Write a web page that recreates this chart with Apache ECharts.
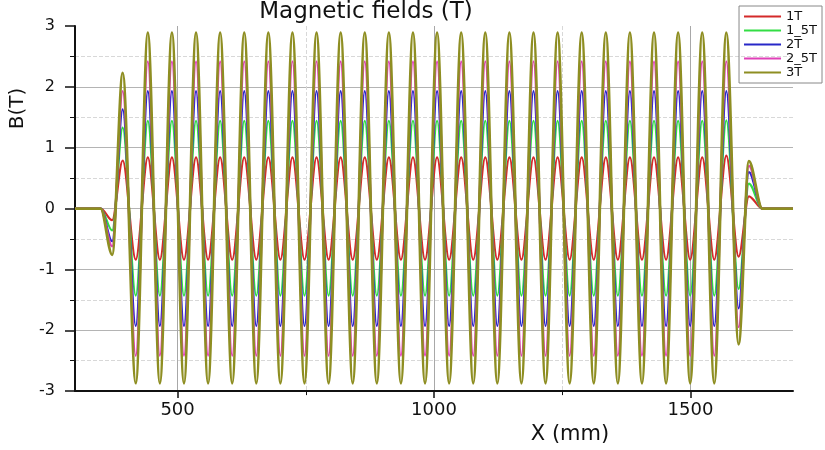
<!DOCTYPE html>
<html>
<head>
<meta charset="utf-8">
<title>Magnetic fields (T)</title>
<script src="https://cdn.jsdelivr.net/npm/echarts@6/dist/echarts.min.js"></script>
<style>
  html, body { margin: 0; padding: 0; background: #fff; }
  #chart { width: 825px; height: 450px; }
</style>
</head>
<body>
<div id="chart"></div>
<script>
// positions (mm) of the field extrema
const fieldX = [300, 350, 372.5, 393,
  418.5, 442, 465.5, 489, 512.5, 536, 559.5, 583, 606.5, 630,
  653.5, 677, 700.5, 724, 747.5, 771, 794.5, 818, 841.5, 865,
  888.5, 912, 935.5, 959, 982.5, 1006, 1029.5, 1053, 1076.5, 1100,
  1123.5, 1147, 1170.5, 1194, 1217.5, 1241, 1264.5, 1288, 1311.5, 1335,
  1358.5, 1382, 1405.5, 1429, 1452.5, 1476, 1499.5, 1523, 1546.5, 1570,
  1594, 1614, 1640, 1700];

// field values (T) at those positions
const b1T = [0, 0, -0.19, 0.79,
  -0.84, 0.84, -0.84, 0.84, -0.84, 0.84, -0.84, 0.84, -0.84, 0.84,
  -0.84, 0.84, -0.84, 0.84, -0.84, 0.84, -0.84, 0.84, -0.84, 0.84,
  -0.84, 0.84, -0.84, 0.84, -0.84, 0.84, -0.84, 0.84, -0.84, 0.84,
  -0.84, 0.84, -0.84, 0.84, -0.84, 0.84, -0.84, 0.84, -0.84, 0.84,
  -0.84, 0.84, -0.84, 0.84, -0.84, 0.84, -0.84, 0.84, -0.84, 0.87,
  -0.79, 0.2, 0, 0];
const b15T = [0, 0, -0.36, 1.33,
  -1.43, 1.44, -1.43, 1.44, -1.43, 1.44, -1.43, 1.44, -1.43, 1.44,
  -1.43, 1.44, -1.43, 1.44, -1.43, 1.44, -1.43, 1.44, -1.43, 1.44,
  -1.43, 1.44, -1.43, 1.44, -1.43, 1.44, -1.43, 1.44, -1.43, 1.44,
  -1.43, 1.44, -1.43, 1.44, -1.43, 1.44, -1.43, 1.44, -1.43, 1.44,
  -1.43, 1.44, -1.43, 1.44, -1.43, 1.44, -1.43, 1.44, -1.43, 1.45,
  -1.32, 0.41, 0, 0];
const b2T = [0, 0, -0.54, 1.63,
  -1.93, 1.93, -1.93, 1.93, -1.93, 1.93, -1.93, 1.93, -1.93, 1.93,
  -1.93, 1.93, -1.93, 1.93, -1.93, 1.93, -1.93, 1.93, -1.93, 1.93,
  -1.93, 1.93, -1.93, 1.93, -1.93, 1.93, -1.93, 1.93, -1.93, 1.93,
  -1.93, 1.93, -1.93, 1.93, -1.93, 1.93, -1.93, 1.93, -1.93, 1.93,
  -1.93, 1.93, -1.93, 1.93, -1.93, 1.93, -1.93, 1.93, -1.93, 1.93,
  -1.64, 0.6, 0, 0];
const b25T = [0, 0, -0.62, 1.93,
  -2.42, 2.42, -2.42, 2.42, -2.42, 2.42, -2.42, 2.42, -2.42, 2.42,
  -2.42, 2.42, -2.42, 2.42, -2.42, 2.42, -2.42, 2.42, -2.42, 2.42,
  -2.42, 2.42, -2.42, 2.42, -2.42, 2.42, -2.42, 2.42, -2.42, 2.42,
  -2.42, 2.42, -2.42, 2.42, -2.42, 2.42, -2.42, 2.42, -2.42, 2.42,
  -2.42, 2.42, -2.42, 2.42, -2.42, 2.42, -2.42, 2.42, -2.42, 2.42,
  -1.95, 0.7, 0, 0];
const b3T = [0, 0, -0.76, 2.23,
  -2.87, 2.89, -2.87, 2.89, -2.87, 2.89, -2.87, 2.89, -2.87, 2.89,
  -2.87, 2.89, -2.87, 2.89, -2.87, 2.89, -2.87, 2.89, -2.87, 2.89,
  -2.87, 2.89, -2.87, 2.89, -2.87, 2.89, -2.87, 2.89, -2.87, 2.89,
  -2.87, 2.89, -2.87, 2.89, -2.87, 2.89, -2.87, 2.89, -2.87, 2.89,
  -2.87, 2.89, -2.87, 2.89, -2.87, 2.89, -2.87, 2.89, -2.87, 2.89,
  -2.23, 0.78, 0, 0];

const seriesNames = ["1T", "1_5T", "2T", "2_5T", "3T"];
const seriesValues = [b1T, b15T, b2T, b25T, b3T];
const xLabels = [500, 1000, 1500];

const colorList = ["#d42a2a", "#33dd44", "#2828c8", "#e040b8", "#8e8e22"];
const lineWidths = [2.2, 2.2, 2.2, 2.2, 2.8];
const fontName = "DejaVu Sans";

const chart = echarts.init(document.getElementById("chart"));

chart.setOption({
  animation: false,
  color: colorList,
  textStyle: { fontFamily: fontName, color: "#111" },
  title: {
    text: "Magnetic fields (T)",
    left: 366,
    top: 1,
    padding: 0,
    textAlign: "center",
    textStyle: { fontFamily: fontName, fontSize: 23, fontWeight: "normal", color: "#111" },
  },
  legend: {
    data: seriesNames.map((name) => ({ name: name, icon: "rect" })),
    orient: "vertical",
    right: 3,
    top: 6,
    padding: [4, 5, 4, 5],
    itemGap: 1,
    itemWidth: 37,
    itemHeight: 2,
    borderColor: "#888",
    borderWidth: 1,
    borderRadius: 0,
    textStyle: { fontFamily: fontName, fontSize: 13, lineHeight: 12, color: "#111" },
  },
  grid: { left: 75, right: 32, top: 26, bottom: 49 },
  xAxis: {
    type: "value",
    min: 300,
    max: 1700,
    splitNumber: 3,
    name: "X (mm)",
    nameLocation: "middle",
    nameGap: 22,
    nameTextStyle: { fontFamily: fontName, fontSize: 21, color: "#111", padding: [0, 0, 0, 272] },
    axisLine: { onZero: false, lineStyle: { color: "#111", width: 2 } },
    axisTick: { length: 7, customValues: xLabels, lineStyle: { color: "#111", width: 1.5 } },
    minorTick: { show: true, splitNumber: 2, length: 4, lineStyle: { color: "#111" } },
    axisLabel: {
      customValues: xLabels,
      fontSize: 18,
      margin: 10,
      color: "#111",
      formatter: (v) => String(v),
    },
    splitLine: { show: true, lineStyle: { color: "#a8a8a8" } },
    minorSplitLine: { show: true, lineStyle: { color: "#d8d8d8", type: "dashed" } },
  },
  yAxis: {
    type: "value",
    min: -3,
    max: 3,
    interval: 1,
    name: "B(T)",
    nameLocation: "middle",
    nameGap: 47,
    nameRotate: 90,
    nameTextStyle: { fontFamily: fontName, fontSize: 20, color: "#111", padding: [0, 0, 0, 200] },
    axisLine: { show: true, onZero: false, lineStyle: { color: "#111", width: 2 } },
    axisTick: { show: true, length: 10, lineStyle: { color: "#111", width: 1.5 } },
    minorTick: { show: true, splitNumber: 2, length: 5, lineStyle: { color: "#111" } },
    axisLabel: { fontSize: 16, margin: 20, color: "#111" },
    splitLine: { show: true, showMinLine: false, showMaxLine: false, lineStyle: { color: "#b4b4b4" } },
    minorSplitLine: { show: true, lineStyle: { color: "#d8d8d8", type: "dashed" } },
  },
  series: seriesNames.map((name, k) => ({
    name: name,
    type: "line",
    symbol: "none",
    smooth: 0.33,
    smoothMonotone: "x",
    lineStyle: { width: lineWidths[k], color: colorList[k] },
    itemStyle: { color: colorList[k] },
    data: fieldX.map((x, i) => [x, seriesValues[k][i]]),
  })),
});
</script>
</body>
</html>
